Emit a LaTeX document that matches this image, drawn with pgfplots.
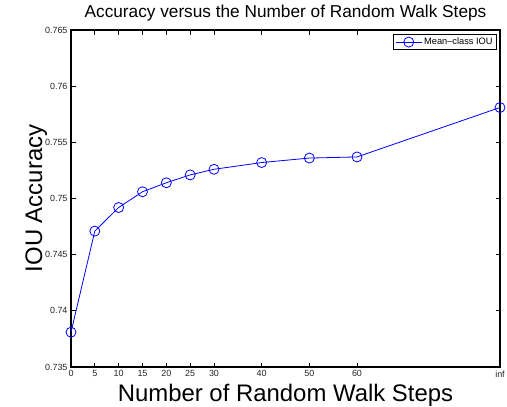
\documentclass[border=0pt]{standalone}
\usepackage{pgfplots}
\pgfplotsset{compat=1.18}
\usepackage{fontspec}
\setmainfont{Liberation Sans}
\begin{document}
\begin{tikzpicture}[x=1bp,y=1bp]
\useasboundingbox (-71,-39) rectangle (436,367);
\begin{axis}[
  at={(0,0)}, anchor=south west,
  scale only axis, width=429bp, height=337bp,
  xmin=0, xmax=90, ymin=0.735, ymax=0.765,
  xtick={0,5,10,15,20,25,30,40,50,60,90},
  xticklabels={0,5,10,15,20,25,30,40,50,60,inf},
  ytick={0.735,0.74,0.745,0.75,0.755,0.76,0.765},
  yticklabels={0.735,0.74,0.745,0.75,0.755,0.76,0.765},
  tick align=inside,
  major tick length=4.5bp,
  axis line style={line width=1.5bp, black},
  every tick/.style={line width=0.8bp, black},
  ticklabel style={font=\fontsize{9}{10}\selectfont, text=black!85},
  title={Accuracy versus the Number of Random Walk Steps},
  title style={font=\fontsize{17.3}{18}\selectfont, at={(axis description cs:0.5,1.018)}, anchor=base},
  xlabel={Number of Random Walk Steps},
  xlabel style={font=\fontsize{24}{26}\selectfont, at={(axis description cs:0.5,-0.1024)}, anchor=base},
  ylabel={IOU Accuracy},
  ylabel style={font=\fontsize{24}{26}\selectfont, at={(axis description cs:-0.0676,0.5)}, anchor=base},
  legend style={at={(axis description cs:0.992,0.988)}, anchor=north east,
    font=\fontsize{9.3}{10}\selectfont, draw=black, line width=0.9bp, inner sep=1.5bp},
  legend image code/.code={\draw[mark repeat=2,mark phase=2] plot coordinates {(0bp,0bp) (13bp,0bp) (26bp,0bp)};},
]
\addplot[blue, line width=0.8bp, mark=o, mark size=5bp, mark options={line width=0.8bp}] coordinates {
(0,0.7381) (5,0.7471) (10,0.7492) (15,0.7506) (20,0.7514) (25,0.7521)
(30,0.7526) (40,0.7532) (50,0.7536) (60,0.7537) (90,0.7581)
};
\addlegendentry{Mean–class IOU}
\end{axis}
\end{tikzpicture}
\end{document}
